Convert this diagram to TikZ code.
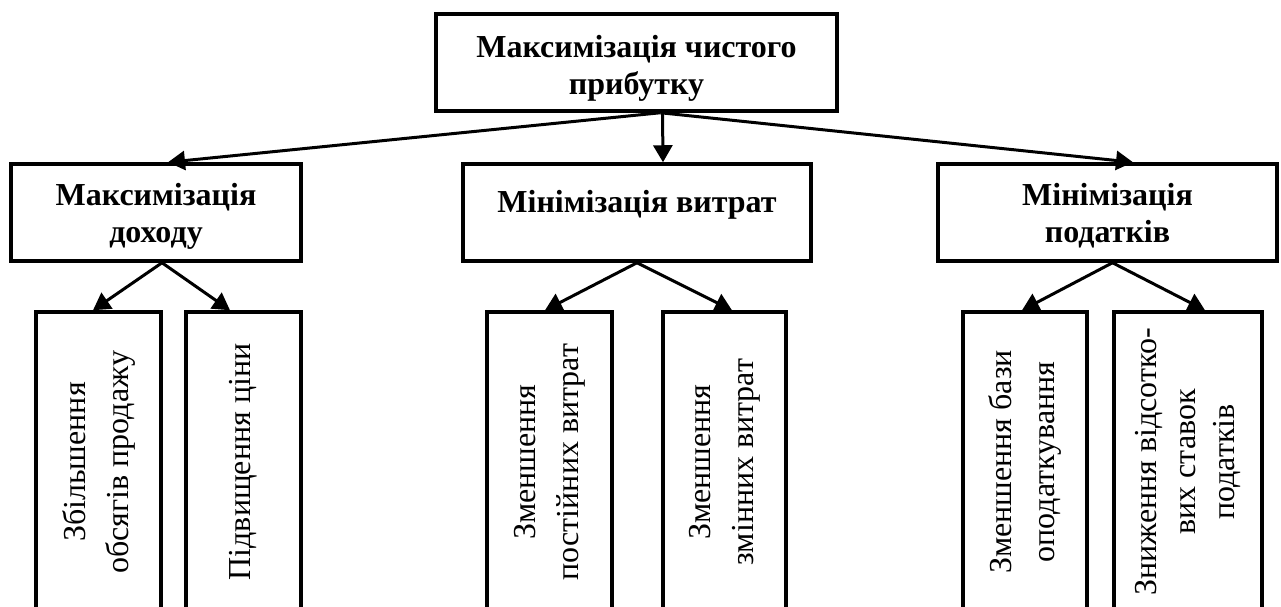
\documentclass[tikz,border=0pt]{standalone}
\usepackage{fontspec}
\setmainfont{Liberation Serif}
\usetikzlibrary{arrows.meta,calc}
\newcommand{\lowerby}[1]{\rule{0pt}{#1}}
\tikzset{
  headbox/.style={draw, line width=3.5pt, inner sep=0pt, align=center,
    font=\bfseries\fontsize{32}{37}\selectfont},
  subbox/.style={draw, line width=3.5pt, inner sep=0pt, align=center, rotate=90,
    minimum width=300pt, font=\fontsize{32}{43}\selectfont},
  conn/.style={line width=3pt, -{Triangle[length=17pt,width=19pt]}}
}
\begin{document}
\begin{tikzpicture}[x=1pt,y=-1pt]
\useasboundingbox (0,0) rectangle (1281,607);
\clip (0,0) rectangle (1281,607);
\fill[white] (0,0) rectangle (1281,607);
\node[headbox, minimum width=401pt, minimum height=97pt] (top) at (636.5,62.5) {\lowerby{33pt}Максимізація чистого\\прибутку};
\node[headbox, minimum width=290pt, minimum height=97pt] (L) at (156,212.5) {\lowerby{29pt}Максимізація\\доходу};
\node[headbox, minimum width=348pt, minimum height=97pt, text height=20pt, text depth=20pt] (M) at (637,212.5) {Мінімізація витрат};
\node[headbox, minimum width=339pt, minimum height=97pt] (R) at (1107.5,212.5) {\lowerby{29pt}Мінімізація\\податків};
\node[subbox, minimum height=125pt] (b1) at (98.5,462) {Збільшення\\обсягів продажу};
\node[subbox, minimum height=115pt] (b2) at (243.5,462) {Підвищення ціни};
\node[subbox, minimum height=125pt] (b3) at (549.5,462) {Зменшення\\постійних витрат};
\node[subbox, minimum height=123pt] (b4) at (724.5,462) {Зменшення\\змінних витрат};
\node[subbox, minimum height=124pt] (b5) at (1025,462) {Зменшення бази\\оподаткування};
\node[subbox, minimum height=148pt, font=\fontsize{32}{39}\selectfont] (b6) at (1188,462) {Зниження відсотко-\\вих ставок\\податків};
\draw[conn] ($(top.south)+(24,0)$) -- ($(L.north)+(12,0)$);
\draw[conn] ($(top.south)+(26,0)$) -- ($(M.north)+(26,0)$);
\draw[conn] ($(top.south)+(24,0)$) -- ($(R.north)+(25.5,0)$);
\draw[conn] ($(L.south)+(6,0)$) -- ($(b1.east)+(-5.5,0)$);
\draw[conn] ($(L.south)+(6,0)$) -- ($(b2.east)+(-13.5,0)$);
\draw[conn] (M.south) -- ($(b3.east)+(-4.5,0)$);
\draw[conn] (M.south) -- ($(b4.east)+(7.5,0)$);
\draw[conn] ($(R.south)+(5,0)$) -- ($(b5.east)+(-3,0)$);
\draw[conn] ($(R.south)+(5,0)$) -- ($(b6.east)+(17,0)$);
\end{tikzpicture}
\end{document}
